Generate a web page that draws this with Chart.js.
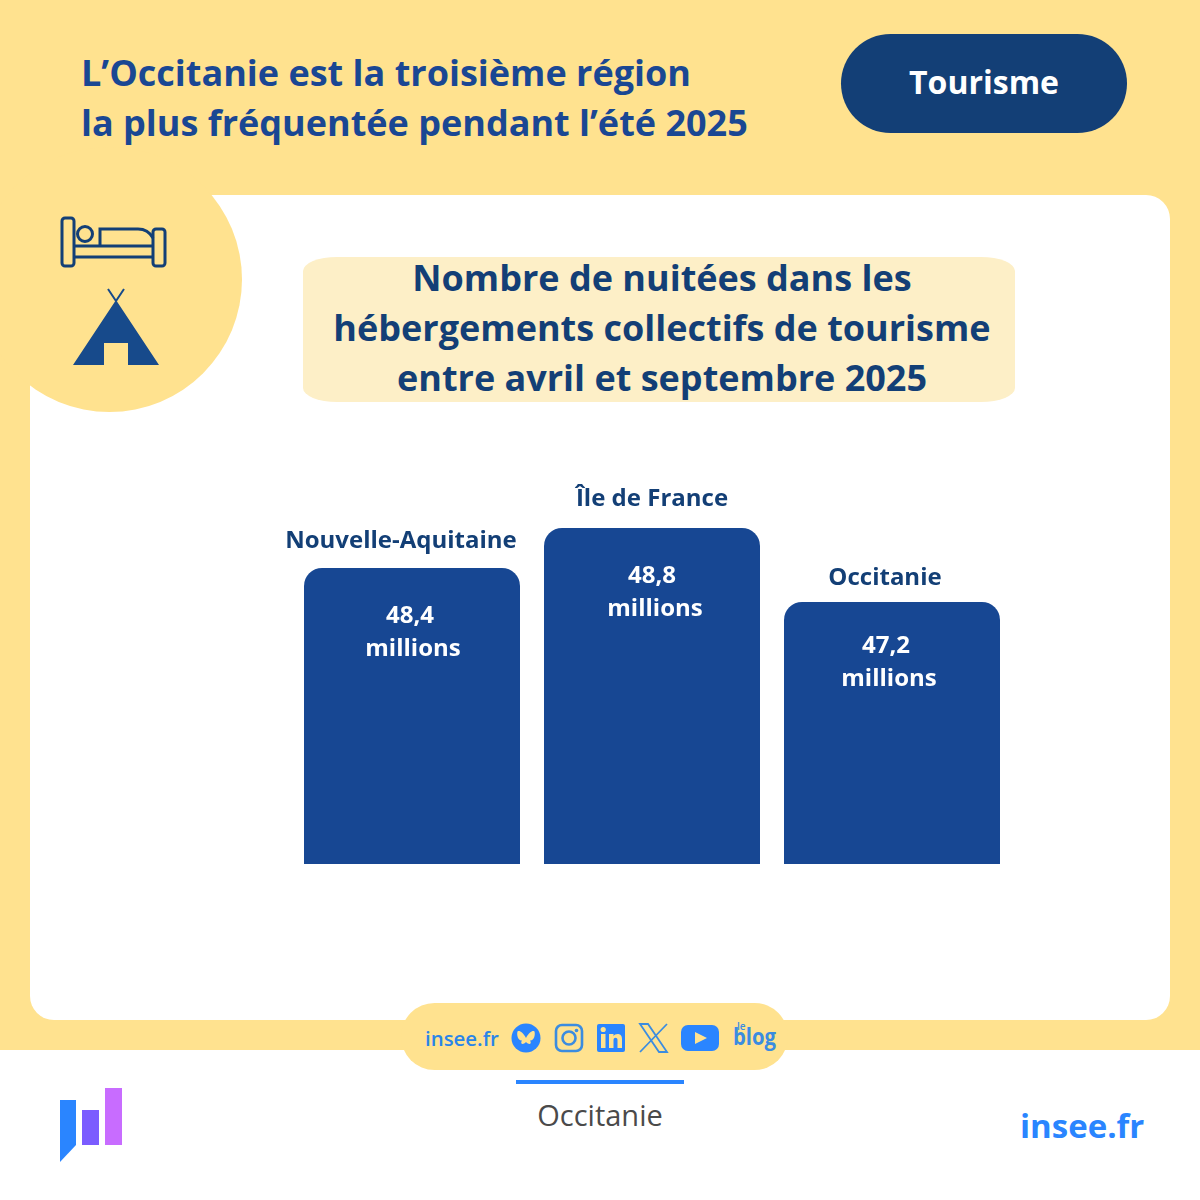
<!DOCTYPE html>
<html lang="fr">
<head>
<meta charset="utf-8">
<title>Nuitées été 2025</title>
<script src="https://cdn.jsdelivr.net/npm/chart.js@4"></script>
<style>
  html,body{margin:0;padding:0;background:#fff;}
  #page{position:relative;width:1200px;height:1200px;overflow:hidden;font-family:"Open Sans",sans-serif;background:#fff;}
  #page div{position:absolute;}
  #chart{position:absolute;left:0;top:0;z-index:3;}
  .band{left:0;top:0;width:1200px;height:1050px;background:#ffe28f;}
  .card{left:30px;top:195px;width:1140px;height:825px;background:#fff;border-radius:24px;}
  .circle{left:-23px;top:147px;width:265px;height:265px;border-radius:50%;background:#ffe28f;}
  .edge{left:0;top:195px;width:30px;height:300px;background:#ffe28f;}
  .head{left:81px;top:48px;font-size:36px;line-height:50px;font-weight:700;color:#1a4793;white-space:nowrap;}
  .pill{left:841px;top:34px;width:286px;height:99px;border-radius:50px;background:#133f76;color:#fff;font-size:32px;font-weight:700;line-height:96px;text-align:center;}
  .box{left:303px;top:257px;width:712px;height:145px;background:#fdefc7;border-radius:34px/14px;}
  .title{left:303px;top:253px;width:718px;text-align:center;font-size:36px;line-height:50px;font-weight:700;color:#133f76;white-space:nowrap;}
  .social{left:401px;top:1003px;width:387px;height:67px;border-radius:34px;background:#ffe28f;}
  .site{left:425px;top:1023px;font-size:20.400px;line-height:30px;font-weight:600;color:#2a85e8;}
  .rule{left:516px;top:1080px;width:168px;height:4px;background:#2a85ff;}
  .region{left:400px;top:1097px;width:400px;text-align:center;font-size:29px;line-height:36px;font-weight:400;color:#4a4a4a;}
  .insee{left:1020px;top:1103px;font-size:33px;line-height:46px;font-weight:700;color:#2a85ff;}
  svg{position:absolute;z-index:2;}
</style>
</head>
<body>
<div id="page">
  <div class="band"></div>
  <div class="card"></div>
  <div class="edge"></div>
  <div class="circle"></div>

  <div class="head">L’Occitanie est la troisième région<br>la plus fréquentée pendant l’été 2025</div>
  <div class="pill">Tourisme</div>

  <div class="box"></div>
  <div class="title">Nombre de nuitées dans les<br>hébergements collectifs de tourisme<br>entre avril et septembre 2025</div>

  <!-- lit + tente -->
  <svg style="left:0;top:180px" width="240" height="200" viewBox="0 0 240 200">
    <g fill="none" stroke="#133f76" stroke-width="3">
      <rect x="62" y="38" width="12" height="48" rx="3"/>
      <rect x="153" y="49" width="12" height="37" rx="3"/>
      <circle cx="85" cy="54" r="7.5"/>
      <path d="M100 66V49H138Q148 49 153 58"/>
      <path d="M74 66H153M74 77H153"/>
    </g>
    <path d="M116 120L159 185H128V163H104V185H73Z" fill="#174a8b"/>
    <path d="M108 109L116 121M124 109L116 121" stroke="#174a8b" stroke-width="2" fill="none"/>
  </svg>

  <div class="social"></div>
  <div class="site">insee.fr</div>
  <!-- reseaux sociaux -->
  <svg style="left:505px;top:1015px" width="280" height="50" viewBox="0 0 280 50">
    <circle cx="21" cy="23" r="14.500" fill="#2a85ff"/>
    <path d="M21 23C18 17 14 15 12.500 16.500C11.500 20 13 26 17 25.500C15 28 17 31 21 27C25 31 27 28 25 25.500C29 26 30.500 20 29.500 16.500C28 15 24 17 21 23Z" fill="#ffe28f"/>
    <rect x="51" y="10" width="26" height="26" rx="6" fill="none" stroke="#3b8ce0" stroke-width="2.600"/>
    <circle cx="64" cy="23" r="6.500" fill="none" stroke="#3b8ce0" stroke-width="2.600"/>
    <circle cx="71.500" cy="15.500" r="1.800" fill="#3b8ce0"/>
    <rect x="92" y="9" width="28" height="28" rx="2" fill="#2a85ff"/>
    <g fill="#ffe28f"><rect x="96" y="19" width="4.500" height="14"/><circle cx="98.200" cy="14.500" r="2.600"/>
    <path d="M104 19H108.500V21C110 18.500 117 17.500 117 24V33H112.500V25C112.500 22 108.500 22 108.500 25V33H104Z"/></g>
    <path d="M135 9H143L162 37H154Z M162 9L135 37" fill="none" stroke="#3b8ce0" stroke-width="1.800"/>
    <rect x="176" y="10" width="38" height="26" rx="7" fill="#2a85ff"/>
    <path d="M190 17L202 23L190 29Z" fill="#ffe28f"/>
    <text x="232" y="15" font-family="Open Sans" font-size="10" font-weight="600" fill="#3b8ce0">le</text>
    <text x="228" y="30" font-family="Open Sans" font-size="24" font-weight="700" fill="#3b8ce0" textLength="43" lengthAdjust="spacingAndGlyphs">blog</text>
  </svg>

  <div class="rule"></div>
  <div class="region">Occitanie</div>
  <div class="insee">insee.fr</div>

  <!-- logo -->
  <svg style="left:55px;top:1085px" width="70" height="80" viewBox="0 0 70 80">
    <path d="M5 15H21V60L5 77Z" fill="#2a85ff"/>
    <rect x="27" y="25" width="17" height="35" fill="#7b5cff"/>
    <rect x="50" y="3" width="17" height="57" fill="#c86cff"/>
  </svg>

  <canvas id="chart" width="1200" height="1200"></canvas>
</div>

<script>
const regions = ["Nouvelle-Aquitaine","Île de France","Occitanie"];
// printed values, as the picture labels them
const nightsLabels = ["48,4","48,8","47,2"];
const unitLabel = "millions";
// the source bars are not proportional to their printed values and have no axis,
// so these are the bar lengths as drawn
const drawnBarLengths = [296,336,262];

// small per-bar nudges of the text seen in the picture
const nameOffsets = [[-11,-27],[0,-29],[-7,-24]];
const valueOffsets = [[-2,48],[0,48],[-6,44]];
const unitOffsets = [[1,81],[3,81],[-3,77]];

const barLabels = {
  id:"barLabels",
  afterDatasetsDraw(chart){
    const ctx = chart.ctx;
    const bars = chart.getDatasetMeta(0).data;
    ctx.save();
    ctx.textAlign = "center";
    ctx.textBaseline = "middle";
    bars.forEach((b,i)=>{
      ctx.fillStyle = "#133f76";
      ctx.font = "700 24px 'Open Sans'";
      ctx.fillText(regions[i], b.x+nameOffsets[i][0], b.y+nameOffsets[i][1]);
      ctx.fillStyle = "#fff";
      ctx.fillText(nightsLabels[i], b.x+valueOffsets[i][0], b.y+valueOffsets[i][1]);
      ctx.fillText(unitLabel, b.x+unitOffsets[i][0], b.y+unitOffsets[i][1]);
    });
    ctx.restore();
  }
};

document.fonts.load("700 24px 'Open Sans'").finally(()=>{
  new Chart(document.getElementById("chart"),{
    type:"bar",
    data:{
      labels:regions,
      datasets:[{
        data:drawnBarLengths,
        backgroundColor:"#174793",
        borderRadius:{topLeft:18,topRight:18,bottomLeft:0,bottomRight:0},
        borderSkipped:false,
        categoryPercentage:1,
        barPercentage:0.9
      }]
    },
    options:{
      responsive:false,
      animation:false,
      layout:{padding:{left:292,right:188,top:464,bottom:336}},
      plugins:{legend:{display:false},tooltip:{enabled:false}},
      scales:{
        x:{display:false},
        y:{display:false,min:0,max:400}
      }
    },
    plugins:[barLabels]
  });
});
</script>
</body>
</html>
